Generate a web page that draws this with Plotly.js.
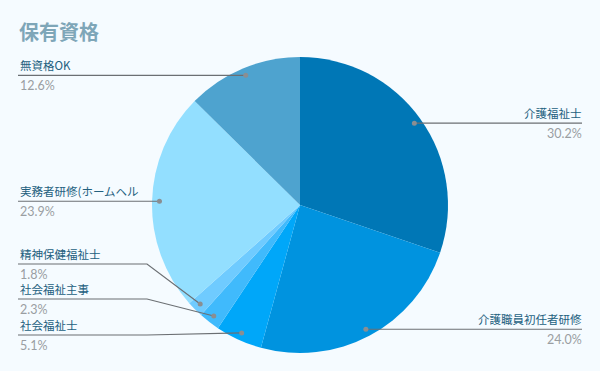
<!DOCTYPE html>
<html>
<head>
<meta charset="utf-8">
<script src="https://cdn.plot.ly/plotly-3.0.1.min.js"></script>
<style>html,body{margin:0;padding:0;background:#f5fbff;}#chart{width:600px;height:371px;}</style>
</head>
<body>
<div id="chart"></div>
<script>
// ---- data ----
var labels = ["介護福祉士", "介護職員初任者研修", "社会福祉士", "社会福祉主事", "精神保健福祉士", "実務者研修（ホームヘル", "無資格OK"];
var displayLabels = ["介護福祉士", "介護職員初任者研修", "社会福祉士", "社会福祉主事", "精神保健福祉士", "実務者研修(ホームヘル", "無資格OK"];
var values = [30.2, 24.0, 5.1, 2.3, 1.8, 23.9, 12.6];
var colors = ["#0077b6", "#0093df", "#00a7f9", "#40bafc", "#6fcbff", "#93dfff", "#4ea3cf"];
var titleText = "保有資格";

// ---- layout geometry (pixels) ----
var W = 600, H = 371;
var cx = 300, cy = 205, R = 148;
var labelLineY = [122, 328, 335, 299, 264, 200, 75];
var useElbow = [false, false, true, true, true, false, false];
var leftEdge = 18, rightEdge = 582, elbowX = 147;
var FONT = "Noto Sans CJK JP, Noto Sans, sans-serif";
var NUMFONT = "Lato, Noto Sans, sans-serif";

function px(x){ return x / W; }
function py(y){ return 1 - y / H; }

var total = values.reduce(function(a,b){return a+b;}, 0);
var shapes = [], annotations = [];
var cum = 0;
for (var i = 0; i < values.length; i++) {
  var th = 2 * Math.PI * (cum + values[i] / 2) / total;
  cum += values[i];
  var rd = 0.95 * R;
  var dx = cx + rd * Math.sin(th), dy = cy - rd * Math.cos(th);
  var left = dx < cx;
  var ly = labelLineY[i];
  var edge = left ? leftEdge : rightEdge;
  var path;
  if (!useElbow[i]) {
    ly = dy;
    path = "M" + px(edge) + "," + py(ly) + " L" + px(dx) + "," + py(dy);
  } else {
    var ex = left ? elbowX : W - elbowX;
    path = "M" + px(edge) + "," + py(ly) + " L" + px(ex) + "," + py(ly) + " L" + px(dx) + "," + py(dy);
  }
  shapes.push({type: "path", xref: "paper", yref: "paper", path: path,
               line: {color: "#6b6f73", width: 1.2}});
  shapes.push({type: "circle", xref: "paper", yref: "paper",
               x0: px(dx - 2.5), x1: px(dx + 2.5), y0: py(dy + 2.5), y1: py(dy - 2.5),
               fillcolor: "#8a8e92", line: {width: 0}});
  annotations.push({xref: "paper", yref: "paper", x: px(edge + 1), y: py(ly - 1.5),
    xanchor: left ? "left" : "right", yanchor: "bottom", showarrow: false, borderpad: 0,
    text: displayLabels[i], font: {family: FONT, size: 11.5, color: "#23607e"}});
  annotations.push({xref: "paper", yref: "paper", x: px(edge + 1), y: py(ly + 1.5),
    xanchor: left ? "left" : "right", yanchor: "top", showarrow: false, borderpad: 0,
    text: values[i].toFixed(1) + "%", font: {family: NUMFONT, size: 12.5, color: "#9a9ea2"}});
}

var trace = {
  type: "pie",
  labels: labels,
  values: values,
  marker: {colors: colors, line: {width: 0}},
  sort: false,
  direction: "clockwise",
  rotation: 0,
  textinfo: "none",
  hoverinfo: "label+percent",
  showlegend: false,
  domain: {x: [0, 1], y: [(H - (cy + R)) / H, (H - (cy - R)) / H]}
};

var layout = {
  width: W, height: H,
  margin: {l: 0, r: 0, t: 0, b: 0},
  paper_bgcolor: "#f5fbff",
  plot_bgcolor: "#f5fbff",
  title: {text: titleText, x: 19 / W, xanchor: "left", xref: "container",
          y: 1 - 33 / H, yanchor: "middle", yref: "container",
          font: {family: FONT, size: 20, color: "#7ea6b8", weight: 700}},
  shapes: shapes,
  annotations: annotations,
  showlegend: false
};

Plotly.newPlot("chart", [trace], layout, {displayModeBar: false, staticPlot: true});
</script>
</body>
</html>
